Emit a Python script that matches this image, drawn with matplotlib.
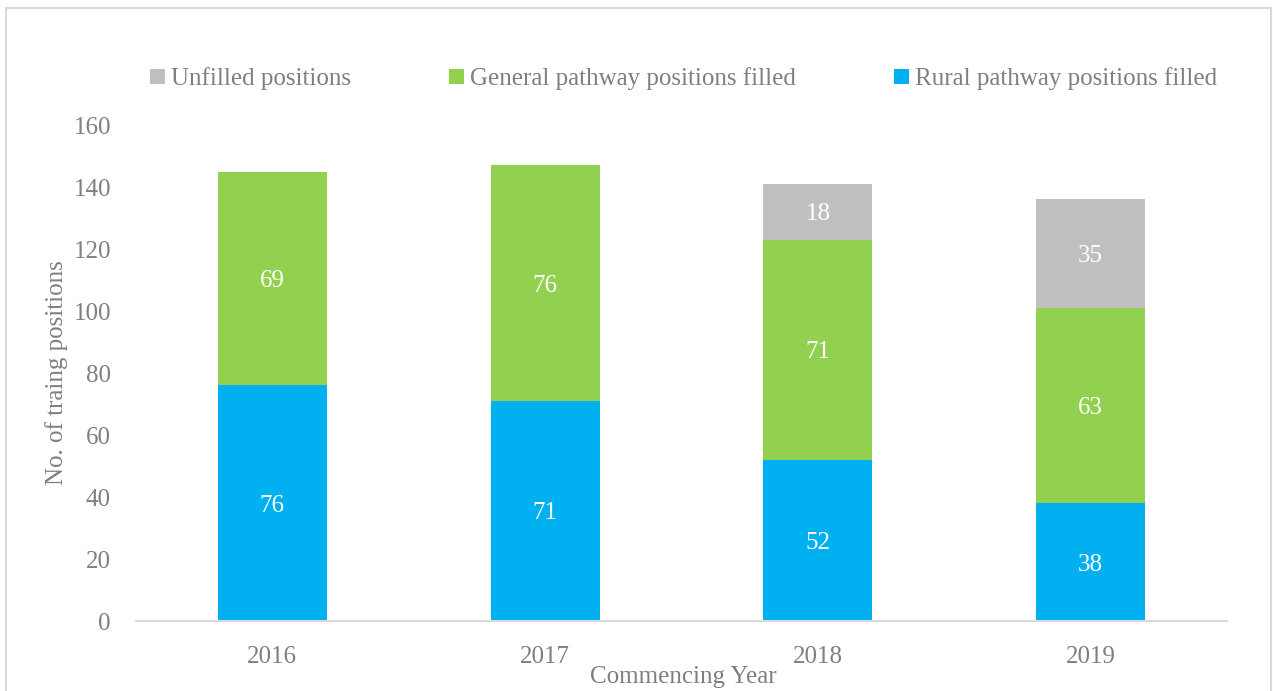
import numpy as np
import matplotlib
matplotlib.use("Agg")
import matplotlib.pyplot as plt
from matplotlib.patches import Rectangle

years = ["2016", "2017", "2018", "2019"]
rural = [76, 71, 52, 38]
general = [69, 76, 71, 63]
unfilled = [0, 0, 18, 35]

c_rural = "#00B0F0"
c_general = "#92D050"
c_unfilled = "#BFBFBF"
grey = "#7F7F7F"

plt.rcParams['font.family'] = ['Liberation Serif', 'DejaVu Serif']
fs = 18

fig = plt.figure(figsize=(12.73, 6.91), dpi=100)
ax = fig.add_axes([0.1068, 0.1013, 0.8571, 0.7178])

x = np.arange(len(years))
w = 0.4
b1 = ax.bar(x, rural, w, color=c_rural, label="Rural pathway positions filled")
b2 = ax.bar(x, general, w, bottom=rural, color=c_general, label="General pathway positions filled")
bottom2 = [r + g for r, g in zip(rural, general)]
b3 = ax.bar(x, unfilled, w, bottom=bottom2, color=c_unfilled, label="Unfilled positions")

# value labels, skip the empty segments
for bars, vals, bots in [(b1, rural, [0]*4), (b2, general, rural), (b3, unfilled, bottom2)]:
	for i in range(len(vals)):
		if vals[i] > 0:
			ax.text(x[i], bots[i] + vals[i] / 2.0, str(vals[i]), ha="center", va="center_baseline",
				color="white", fontsize=fs)

ax.set_xlim(-0.5, 3.5)
ax.set_ylim(0, 160)
ax.set_yticks(range(0, 161, 20))
ax.set_xticks(x)
ax.set_xticklabels(years)
ax.tick_params(axis="both", length=0, labelsize=fs, colors=grey)
ax.tick_params(axis="x", pad=18)
ax.tick_params(axis="y", pad=18)
for s in ["top", "right", "left"]:
	ax.spines[s].set_visible(False)
ax.spines["bottom"].set_color("#D9D9D9")
ax.spines["bottom"].set_linewidth(1.5)

ax.set_ylabel("No. of traing positions", fontsize=fs, color=grey, labelpad=4)
fig.text(0.5365, 0.02, "Commencing Year", ha="center", va="center", fontsize=fs, color=grey)

handles = [b3, b2, b1]
fig.legend(handles, [h.get_label() for h in handles], loc="center", bbox_to_anchor=(0.537, 0.886),
	ncol=3, frameon=False, fontsize=fs, labelcolor=grey, handlelength=0.6, handleheight=0.6,
	handletextpad=0.25, columnspacing=3.9)

fig.patches.append(Rectangle((6 / 1273.0, -0.05), 1265 / 1273.0, 1 - 8 / 691.0 + 0.05,
	transform=fig.transFigure, fill=False, edgecolor="#D9D9D9", linewidth=1.5))

plt.savefig("out.png")
